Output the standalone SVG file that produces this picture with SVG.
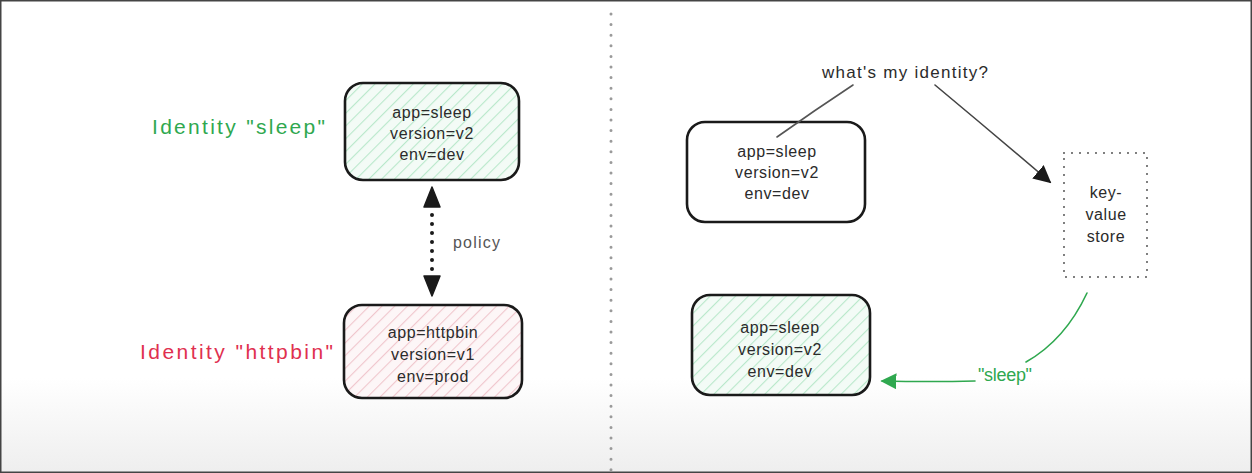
<svg xmlns="http://www.w3.org/2000/svg" width="1252" height="473" viewBox="0 0 1252 473">
<style>
.box{stroke:#1a1a1a;stroke-width:2.6;}
.t{font-family:"Liberation Sans",Arial,sans-serif;font-size:16px;letter-spacing:0.6px;fill:#2b2b2b;text-anchor:middle;}
.lbl{font-family:"Liberation Sans",Arial,sans-serif;font-size:21px;}
.conn{fill:none;stroke-linecap:round;}
</style>
<defs>
<linearGradient id="bg" x1="0" y1="0" x2="0" y2="1">
<stop offset="0.8" stop-color="#ffffff"/>
<stop offset="1" stop-color="#eeeeee"/>
</linearGradient>
<pattern id="hg" width="9" height="9" patternUnits="userSpaceOnUse" patternTransform="rotate(45)">
<rect width="9" height="9" fill="#f3fbf6"/>
<line x1="0" y1="0" x2="0" y2="9" stroke="#b9e8cb" stroke-width="2.2"/>
</pattern>
<pattern id="hr" width="9" height="9" patternUnits="userSpaceOnUse" patternTransform="rotate(45)">
<rect width="9" height="9" fill="#fdf6f7"/>
<line x1="0" y1="0" x2="0" y2="9" stroke="#f0c6cd" stroke-width="2.2"/>
</pattern>
<marker id="ag" viewBox="0 0 10 10" refX="9" refY="5" markerWidth="10" markerHeight="10" orient="auto" markerUnits="strokeWidth">
<path d="M0,0 L10,5 L0,10 z" fill="#2fa84f"/>
</marker>
<marker id="ak" viewBox="0 0 10 10" refX="9" refY="5" markerWidth="11" markerHeight="11" orient="auto" markerUnits="strokeWidth">
<path d="M0,0 L10,5 L0,10 z" fill="#1a1a1a"/>
</marker>
</defs>
<rect x="0.5" y="0.5" width="1251" height="472" fill="url(#bg)" stroke="#444" stroke-width="2"/>

<g id="divider">
<line x1="611" y1="14" x2="611" y2="470" stroke="#9a9a9a" stroke-width="3" stroke-linecap="round" stroke-dasharray="0 10.6"/>
</g>

<g id="node-sleep-left">
<rect class="box" x="345" y="83" width="174" height="97" rx="18" fill="url(#hg)"/>
<text class="t" x="432" y="118">app=sleep</text>
<text class="t" x="432" y="139">version=v2</text>
<text class="t" x="432" y="160">env=dev</text>
</g>
<g id="label-identity-sleep">
<text class="lbl" x="152" y="134" fill="#2fa84f" textLength="173" lengthAdjust="spacing">Identity "sleep"</text>
</g>

<g id="node-httpbin">
<rect class="box" x="344" y="305" width="178" height="93" rx="18" fill="url(#hr)"/>
<text class="t" x="433" y="338">app=httpbin</text>
<text class="t" x="433" y="360">version=v1</text>
<text class="t" x="433" y="382">env=prod</text>
</g>
<g id="label-identity-httpbin">
<text class="lbl" x="140" y="359" fill="#e0304f" textLength="193" lengthAdjust="spacing">Identity "httpbin"</text>
</g>

<g id="node-sleep-right-top">
<rect class="box" x="687" y="122" width="178" height="100" rx="18" fill="#ffffff"/>
<text class="t" x="777" y="157">app=sleep</text>
<text class="t" x="777" y="178">version=v2</text>
<text class="t" x="777" y="199">env=dev</text>
</g>

<g id="node-kv-store">
<rect x="1064" y="153" width="83" height="124" fill="#ffffff" stroke="#555" stroke-width="2" stroke-linecap="round" stroke-dasharray="0 8"/>
<text class="t" x="1106" y="198">key-</text>
<text class="t" x="1106" y="220">value</text>
<text class="t" x="1106" y="242">store</text>
</g>

<g id="node-sleep-right-bottom">
<rect class="box" x="692" y="295" width="178" height="100" rx="18" fill="url(#hg)"/>
<text class="t" x="780" y="333">app=sleep</text>
<text class="t" x="780" y="355">version=v2</text>
<text class="t" x="780" y="377">env=dev</text>
</g>

<g id="connectors">
<line class="conn" x1="432" y1="215" x2="432" y2="270" stroke="#1a1a1a" stroke-width="4" stroke-dasharray="0 9"/>
<path d="M432,187 L424,207 L440,207 z" fill="#1a1a1a" stroke="#1a1a1a" stroke-width="1.5" stroke-linejoin="round"/>
<path d="M432,296 L424,276 L440,276 z" fill="#1a1a1a" stroke="#1a1a1a" stroke-width="1.5" stroke-linejoin="round"/>
<text x="453" y="248" font-family="Liberation Sans,Arial,sans-serif" font-size="16" fill="#555" textLength="47" lengthAdjust="spacing">policy</text>

<text x="822" y="78" font-family="Liberation Sans,Arial,sans-serif" font-size="17" fill="#2b2b2b" textLength="166" lengthAdjust="spacing">what's my identity?</text>
<path class="conn" d="M853,85 Q815,110 777,137" stroke="#555" stroke-width="1.6"/>
<path class="conn" d="M935,85 Q995,135 1050,182" stroke="#444" stroke-width="1.6" marker-end="url(#ak)"/>

<path class="conn" d="M1087,293 Q1065,340 1026,362" stroke="#2fa84f" stroke-width="1.6"/>
<text x="978" y="381" font-family="Liberation Sans,Arial,sans-serif" font-size="18" fill="#2fa84f" textLength="54" lengthAdjust="spacing">"sleep"</text>
<path class="conn" d="M975,381 Q930,382 882,381" stroke="#2fa84f" stroke-width="1.6" marker-end="url(#ag)"/>
</g>
</svg>
